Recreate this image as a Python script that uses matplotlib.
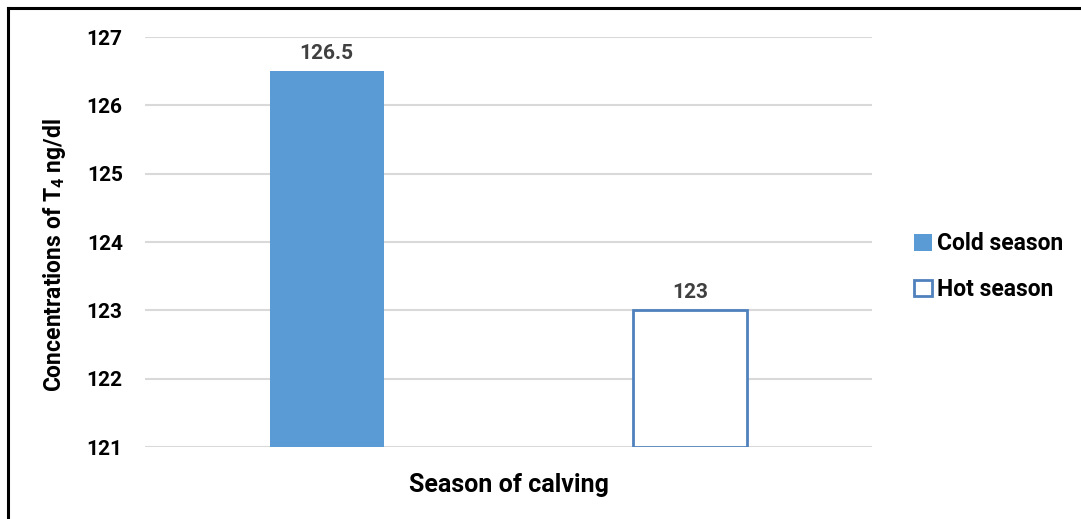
import matplotlib.pyplot as plt
from matplotlib.lines import Line2D

# T4 concentrations by calving season
seasons = ['Cold season', 'Hot season']
t4_values = [126.5, 123]
yticks = [121, 122, 123, 124, 125, 126, 127]

plt.rcParams['font.family'] = ['Roboto', 'DejaVu Sans']
plt.rcParams['font.weight'] = 'bold'
plt.rcParams['mathtext.default'] = 'regular'

blue = '#5B9BD5'
fig = plt.figure(figsize=(10.81, 5.19), dpi=100)
ax = fig.add_axes([0.1341, 0.1387, 0.6726, 0.79])

base = yticks[0]
face = [blue, 'white']
edge = [blue, '#4F81BD']
for i, (name, val) in enumerate(zip(seasons, t4_values)):
    ax.bar(i, val - base, bottom=base, width=0.314, color=face[i],
           edgecolor=edge[i], linewidth=2 if i else 0, label=name, zorder=3)
    ax.text(i, val + 0.12, '{:g}'.format(val), ha='center', va='bottom',
            fontsize=15, fontweight='bold', color='#404040')

ax.set_xlim(-0.5, 1.5)
ax.set_ylim(121, 127)
ax.set_yticks(yticks)
ax.set_xticks([])
ax.tick_params(axis='y', length=0, pad=16, labelsize=15)
for lab in ax.get_yticklabels():
    lab.set_fontweight('bold')
ax.grid(axis='y', color='#D9D9D9', linewidth=1.5, zorder=0)
for s in ax.spines.values():
    s.set_visible(False)

ax.set_xlabel('Season of calving', fontsize=18, fontweight='bold', labelpad=19)
ax.set_ylabel(r'Concentrations of T$_4$ ng/dl', fontsize=16.5, fontweight='bold')
ax.yaxis.set_label_coords(-0.106, 0.468)

ax.legend(loc='center left', bbox_to_anchor=(1.03, 0.44), frameon=False,
          handlelength=0.75, handleheight=0.75,
          handletextpad=0.25, labelspacing=1.0, prop={'weight': 'bold', 'size': 16.5})

# frame lines along the top and left edges
fig.add_artist(Line2D([8 / 1081, 1], [1 - 8 / 519, 1 - 8 / 519],
                      transform=fig.transFigure, color='black', linewidth=2.2))
fig.add_artist(Line2D([8 / 1081, 8 / 1081], [0, 1 - 8 / 519],
                      transform=fig.transFigure, color='black', linewidth=2.2))

fig.savefig('out.png', dpi=100)
